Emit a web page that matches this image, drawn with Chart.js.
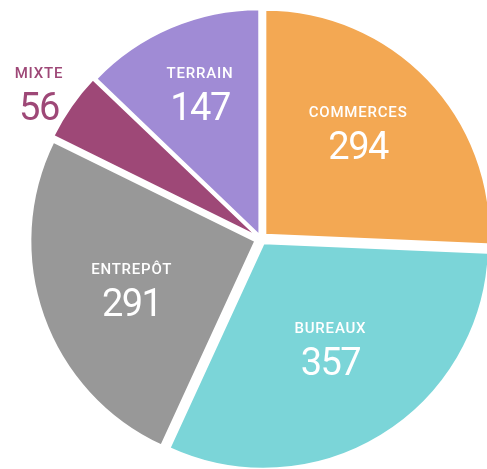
<!DOCTYPE html>
<html>
<head>
<meta charset="utf-8">
<script src="https://cdn.jsdelivr.net/npm/chart.js@4"></script>
<style>
  body { margin: 0; background: #fff; }
  #wrap { width: 487px; height: 469px; }
</style>
</head>
<body>
<div id="wrap"><canvas id="myChart"></canvas></div>
<script>
let categories = ['COMMERCES', 'BUREAUX', 'ENTREPÔT', 'MIXTE', 'TERRAIN'];
let values = [294, 357, 291, 56, 147];
let sliceColors = ['#f3a853', '#7bd5d8', '#989898', '#9e4877', '#a08bd5'];

// label placement: fraction of radius, angle nudge in degrees
let labelPlace = [[0.655, -5], [0.56, -2], [0.61, 0], [1.19, -1], [0.72, 1]];

const sliceLabels = {
  id: 'sliceLabels',
  afterDatasetsDraw(chart) {
    const ctx = chart.ctx;
    const arcs = chart.getDatasetMeta(0).data;
    arcs.forEach((arc, i) => {
      const f = labelPlace[i][0];
      const mid = (arc.startAngle + arc.endAngle) / 2 + labelPlace[i][1] * Math.PI / 180;
      const r = arc.outerRadius * f;
      const x = arc.x + Math.cos(mid) * r;
      const y = arc.y + Math.sin(mid) * r;
      ctx.save();
      ctx.fillStyle = f > 1 ? sliceColors[i] : '#ffffff';
      ctx.textAlign = 'center';
      ctx.textBaseline = 'alphabetic';
      ctx.font = '500 15px Roboto';
      ctx.letterSpacing = '0.8px';
      ctx.fillText(categories[i], x, y - 11);
      ctx.font = '400 38px Roboto';
      ctx.letterSpacing = '-1.5px';
      ctx.fillText(String(values[i]), x, y + 31);
      ctx.restore();
    });
  }
};

let canvasChart = document.getElementById('myChart');

const config = {
  type: 'pie',
  data: {
    labels: categories,
    datasets: [{
      data: values,
      backgroundColor: sliceColors,
      borderColor: '#ffffff',
      borderWidth: 2,
      offset: [24, 20, 24, 16, 16],
      hoverOffset: 0,
      clip: false
    }]
  },
  options: {
    responsive: true,
    maintainAspectRatio: false,
    animation: false,
    radius: 225,
    layout: { padding: { left: 35, top: 9 } },
    plugins: {
      legend: { display: false },
      tooltip: { enabled: false }
    }
  },
  plugins: [sliceLabels]
};

new Chart(canvasChart, config);
</script>
</body>
</html>
